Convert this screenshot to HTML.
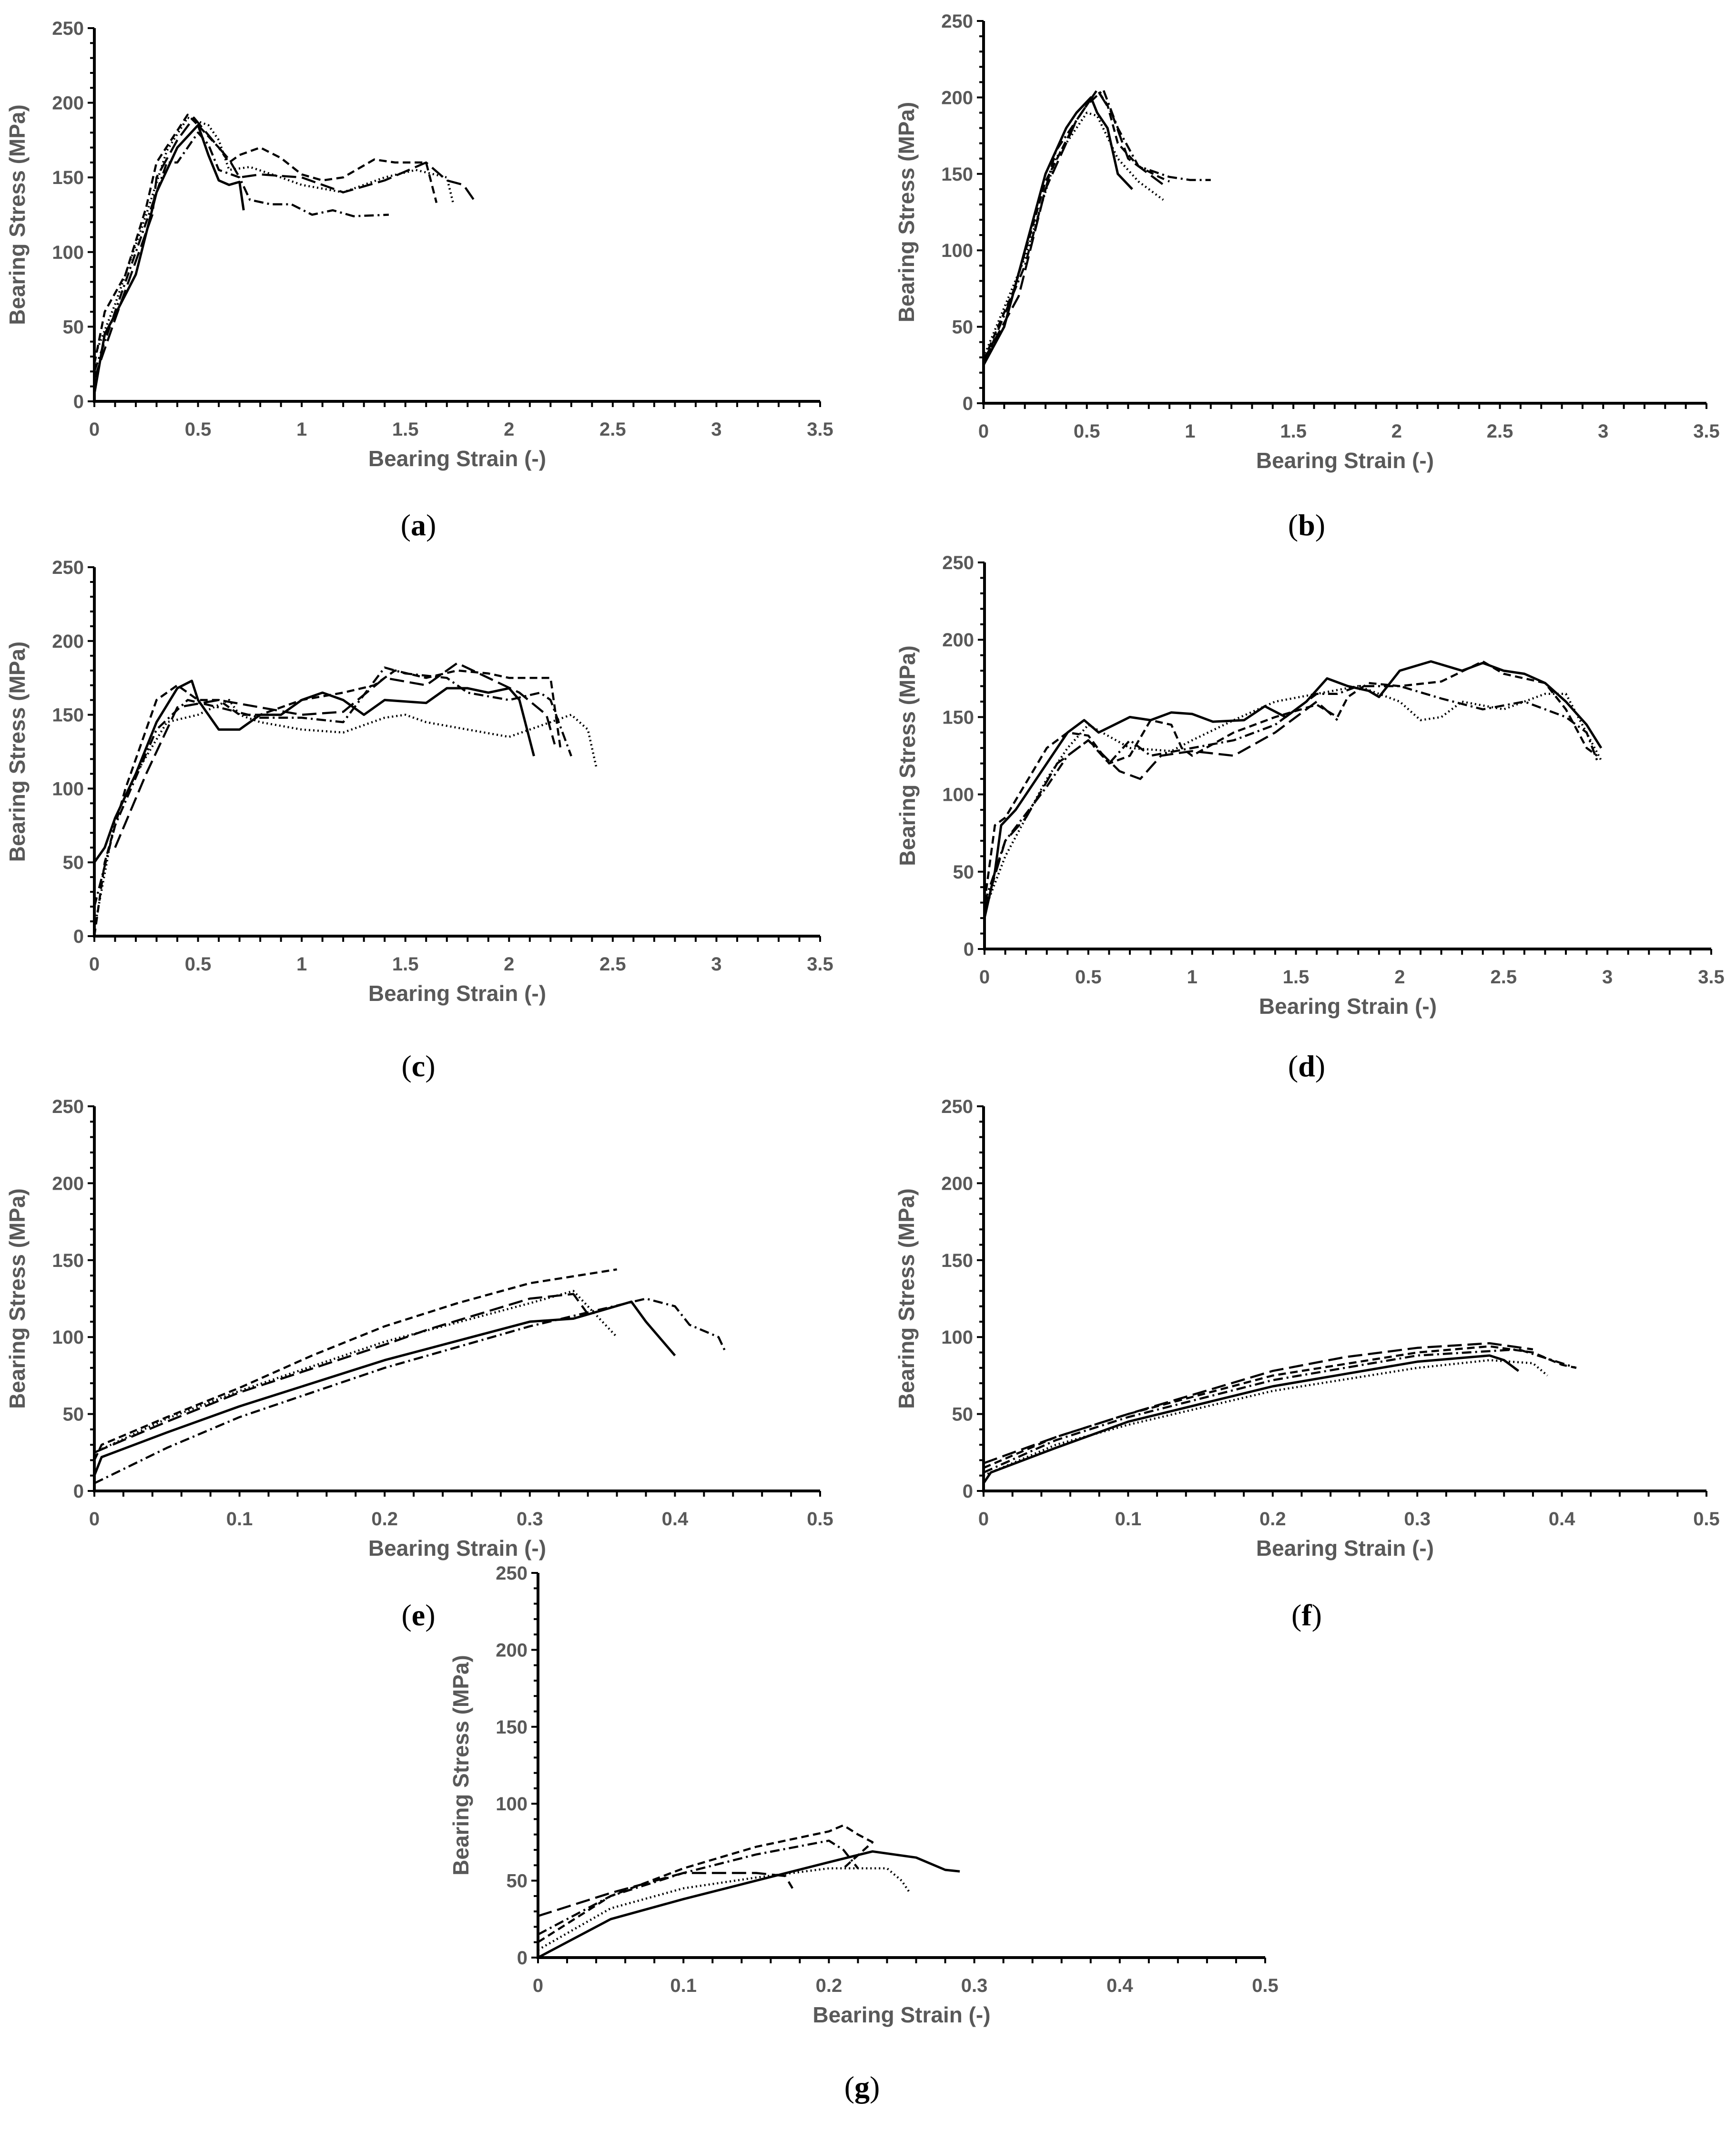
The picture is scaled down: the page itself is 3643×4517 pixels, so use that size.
<!DOCTYPE html>
<html><head><meta charset="utf-8"><style>
html,body{margin:0;padding:0;background:#fff;}
svg{display:block;}
.tick{font-family:"Liberation Sans",sans-serif;font-weight:bold;fill:#595959;font-size:40px;}
.ttl{font-family:"Liberation Sans",sans-serif;font-weight:bold;fill:#595959;font-size:46px;}
.cap{font-family:"Liberation Serif",serif;font-size:64px;fill:#000;}
</style></head><body>
<svg id="fig" width="3643" height="4517" viewBox="0 0 3643 4517" xmlns="http://www.w3.org/2000/svg"></svg>
<script>
// Panel data (strain, stress pairs)
const a_solid=[[0,5],[0.05,45],[0.1,58],[0.2,85],[0.3,140],[0.4,170],[0.5,185],[0.55,165],[0.6,148],[0.65,145],[0.7,147],[0.72,128]];
const a_dash=[[0,25],[0.05,60],[0.15,85],[0.25,130],[0.3,160],[0.45,192],[0.5,185],[0.6,170],[0.65,160],[0.7,165],[0.8,170],[0.9,163],[1.0,152],[1.1,148],[1.2,150],[1.35,162],[1.45,160],[1.6,160],[1.65,133]];
const a_dot=[[0,30],[0.1,65],[0.25,125],[0.35,168],[0.45,190],[0.55,185],[0.6,175],[0.65,155],[0.75,157],[0.9,150],[1.0,145],[1.2,140],[1.4,150],[1.55,155],[1.7,150],[1.73,133]];
const a_dashdot=[[0,20],[0.1,60],[0.25,120],[0.35,160],[0.4,160],[0.45,170],[0.5,180],[0.55,172],[0.6,155],[0.7,150],[0.75,135],[0.85,132],[0.95,132],[1.05,125],[1.15,128],[1.25,124],[1.42,125]];
const a_long=[[0,15],[0.1,55],[0.28,125],[0.3,150],[0.4,175],[0.48,190],[0.6,170],[0.65,162],[0.7,150],[0.8,152],[1.0,150],[1.2,140],[1.4,148],[1.6,160],[1.7,148],[1.78,145],[1.83,135]];

const b_solid=[[0,25],[0.1,50],[0.2,100],[0.3,150],[0.4,180],[0.45,190],[0.52,200],[0.55,190],[0.6,180],[0.65,150],[0.72,140]];
const b_dash=[[0,28],[0.15,75],[0.3,145],[0.45,185],[0.55,205],[0.6,195],[0.65,170],[0.75,155],[0.85,148],[0.9,145]];
const b_dot=[[0,30],[0.2,95],[0.35,160],[0.5,190],[0.55,188],[0.65,160],[0.75,145],[0.87,133]];
const b_dashdot=[[0,25],[0.2,90],[0.35,165],[0.5,195],[0.58,205],[0.65,180],[0.75,155],[0.9,148],[1.0,146],[1.1,146]];
const b_long=[[0,28],[0.17,70],[0.3,140],[0.45,185],[0.55,205],[0.62,190],[0.7,160],[0.8,150],[0.87,143]];

const c_solid=[[0,50],[0.05,60],[0.1,80],[0.2,110],[0.3,145],[0.4,168],[0.47,173],[0.5,160],[0.6,140],[0.7,140],[0.8,150],[0.9,150],[1.0,160],[1.1,165],[1.2,160],[1.3,150],[1.4,160],[1.6,158],[1.7,168],[1.8,168],[1.9,165],[2.0,168],[2.05,160],[2.12,122]];
const c_dash=[[0,0],[0.05,50],[0.15,100],[0.3,160],[0.4,170],[0.5,160],[0.6,160],[0.7,150],[0.8,150],[1.0,160],[1.2,165],[1.35,170],[1.45,180],[1.6,175],[1.75,180],[1.9,178],[2.0,175],[2.2,175],[2.25,125]];
const c_dot=[[0,5],[0.1,80],[0.2,110],[0.35,145],[0.5,150],[0.65,160],[0.7,150],[0.8,145],[1.0,140],[1.2,138],[1.4,148],[1.5,150],[1.6,145],[1.8,140],[2.0,135],[2.1,140],[2.3,150],[2.38,140],[2.42,115]];
const c_dashdot=[[0,20],[0.1,75],[0.3,140],[0.45,160],[0.6,155],[0.8,148],[1.0,148],[1.2,145],[1.4,182],[1.5,178],[1.7,175],[1.8,165],[2.0,160],[2.15,165],[2.2,160],[2.3,122]];
const c_long=[[0.1,60],[0.25,110],[0.4,155],[0.6,160],[0.8,155],[1.0,150],[1.2,152],[1.4,175],[1.6,170],[1.75,185],[1.9,175],[2.05,165],[2.18,150],[2.22,130]];

const d_solid=[[0,20],[0.05,50],[0.08,80],[0.15,90],[0.3,120],[0.4,140],[0.48,148],[0.55,140],[0.7,150],[0.8,148],[0.9,153],[1.0,152],[1.1,147],[1.25,148],[1.35,157],[1.45,150],[1.55,160],[1.65,175],[1.75,170],[1.85,167],[1.9,163],[2.0,180],[2.15,186],[2.3,180],[2.4,185],[2.5,180],[2.6,178],[2.7,172],[2.8,160],[2.9,145],[2.97,130]];
const d_dash=[[0,30],[0.05,80],[0.1,85],[0.3,130],[0.4,140],[0.5,138],[0.6,120],[0.7,125],[0.8,148],[0.9,145],[0.95,130],[1.0,125],[1.2,140],[1.4,150],[1.6,158],[1.7,150],[1.75,163],[1.85,172],[2.0,170],[2.2,173],[2.4,186],[2.5,178],[2.6,175],[2.7,172],[2.8,155],[2.9,130],[2.95,125]];
const d_dot=[[0,25],[0.1,60],[0.2,85],[0.3,110],[0.4,130],[0.5,145],[0.7,130],[0.9,128],[1.0,135],[1.2,148],[1.4,160],[1.6,165],[1.8,170],[2.0,160],[2.1,148],[2.2,150],[2.3,160],[2.5,155],[2.7,165],[2.8,165],[2.97,122]];
const d_dashdot=[[0,30],[0.1,70],[0.3,105],[0.4,125],[0.5,135],[0.6,120],[0.7,135],[0.8,125],[1.0,130],[1.2,135],[1.4,145],[1.6,165],[1.7,165],[1.8,170],[2.0,170],[2.2,162],[2.4,155],[2.6,160],[2.8,150],[2.9,140],[2.95,122]];
const d_long=[[0,25],[0.1,70],[0.2,85],[0.35,120],[0.5,135],[0.65,115],[0.75,110],[0.85,125],[1.0,128],[1.2,125],[1.4,140],[1.6,160],[1.7,148]];

const e_solid=[[0,10],[0.005,22],[0.05,38],[0.1,55],[0.2,85],[0.3,110],[0.33,112],[0.37,123],[0.38,110],[0.4,88]];
const e_dash=[[0,20],[0.005,30],[0.05,48],[0.1,67],[0.15,88],[0.2,107],[0.25,122],[0.3,135],[0.36,144]];
const e_dot=[[0,25],[0.05,47],[0.1,65],[0.2,97],[0.3,122],[0.33,130],[0.36,100]];
const e_dashdot=[[0,5],[0.05,28],[0.1,48],[0.2,80],[0.3,107],[0.38,125],[0.4,120],[0.41,108],[0.43,100],[0.435,90]];
const e_long=[[0,25],[0.05,45],[0.1,64],[0.2,95],[0.23,105],[0.3,125],[0.33,128],[0.34,115]];

const f_solid=[[0,5],[0.005,12],[0.05,28],[0.1,45],[0.2,68],[0.3,84],[0.35,88],[0.36,85],[0.37,78]];
const f_dash=[[0,15],[0.05,35],[0.1,50],[0.2,75],[0.3,90],[0.35,94],[0.38,90],[0.4,82],[0.41,80]];
const f_dot=[[0,10],[0.05,30],[0.1,43],[0.2,65],[0.3,80],[0.35,85],[0.38,83],[0.39,75]];
const f_dashdot=[[0,12],[0.05,33],[0.1,48],[0.2,72],[0.3,88],[0.37,92],[0.4,83],[0.41,80]];
const f_long=[[0,18],[0.05,35],[0.1,50],[0.2,78],[0.25,87],[0.3,93],[0.35,96],[0.38,92]];

const g_solid=[[0,0],[0.02,10],[0.05,25],[0.1,38],[0.15,50],[0.2,62],[0.23,69],[0.26,65],[0.28,57],[0.29,56]];
const g_dash=[[0,10],[0.05,40],[0.1,58],[0.15,72],[0.2,82],[0.21,86],[0.22,80],[0.23,75],[0.21,58]];
const g_dot=[[0,5],[0.05,32],[0.1,45],[0.15,52],[0.2,58],[0.24,58],[0.25,50],[0.255,43]];
const g_dashdot=[[0,15],[0.05,40],[0.1,55],[0.15,67],[0.2,76],[0.21,70],[0.22,58]];
const g_long=[[0,27],[0.05,42],[0.1,55],[0.15,55],[0.17,53],[0.175,45]];

const yTicks=[0,50,100,150,200,250];
const xTicksWide=[0,0.5,1,1.5,2,2.5,3,3.5];
const xTicksNarrow=[0,0.1,0.2,0.3,0.4,0.5];

const NS='http://www.w3.org/2000/svg';
const svg=document.getElementById('fig');
function mk(tag,attrs,parent){const e=document.createElementNS(NS,tag);for(const k in attrs)e.setAttribute(k,attrs[k]);(parent||svg).appendChild(e);return e;}
const styles={solid:'',dash:'16,9',dot:'3,6',dashdot:'20,8,4,8',long:'30,12'};

function panel(id,x0,x1,y0,y1,xmax,xticks,minorStep,series,cap,capX,capY){
  const g=mk('g',{});
  
  
  const sx=v=>x0+(x1-x0)*v/xmax;
  const sy=v=>y0-(y0-y1)*v/250;
  // axes
  const ax=mk('path',{d:`M${x0},${y1} V${y0} H${x1}`,stroke:'#000','stroke-width':6,fill:'none'},g);
  
  
  // y ticks minor every 10
  for(let v=0;v<=250;v+=10){const y=sy(v);mk('line',{x1:x0-(v%50==0?14:9),x2:x0,y1:y,y2:y,stroke:'#000','stroke-width':4},g);}
  yTicks.forEach(v=>{const t=mk('text',{x:x0-22,y:sy(v)+14,'text-anchor':'end',class:'tick'},g);t.textContent=v;
    });
  const n=Math.round(xmax/minorStep);
  for(let i=0;i<=n;i++){const x=sx(i*minorStep);mk('line',{x1:x,x2:x,y1:y0,y2:y0+12,stroke:'#000','stroke-width':4},g);}
  xticks.forEach(v=>{const t=mk('text',{x:sx(v),y:y0+72,'text-anchor':'middle',class:'tick'},g);t.textContent=v;
    });
  const xt=mk('text',{x:(x0+x1)/2,y:y0+136,'text-anchor':'middle',class:'ttl'},g);xt.textContent='Bearing Strain (-)';
  
  const yc=(y0+y1)/2;
  const yt=mk('text',{x:x0-146,y:yc,'text-anchor':'middle',class:'ttl',transform:`rotate(-90 ${x0-146} ${yc})`},g);yt.textContent='Bearing Stress (MPa)';
  
  for(const k in series){
    const d=series[k].map((p,i)=>(i?'L':'M')+sx(p[0]).toFixed(1)+','+sy(p[1]).toFixed(1)).join(' ');
    const attrs={d:d,stroke:'#000','stroke-width':k=='solid'?5:4.5,fill:'none','stroke-linejoin':'round'};
    if(styles[k])attrs['stroke-dasharray']=styles[k];
    const p=mk('path',attrs,g);
    
    
  }
  const c=mk('text',{x:capX,y:capY,'text-anchor':'middle',class:'cap'});
  c.innerHTML='(<tspan font-weight="bold">'+cap+'</tspan>)';
  
  
}
panel('a',198,1721,842,59,3.5,xTicksWide,0.1,{solid:a_solid,dash:a_dash,dot:a_dot,dashdot:a_dashdot,long:a_long},'a',878,1123);
panel('b',2064,3581,846,44,3.5,xTicksWide,0.1,{solid:b_solid,dash:b_dash,dot:b_dot,dashdot:b_dashdot,long:b_long},'b',2742,1123);
panel('c',198,1721,1964,1190,3.5,xTicksWide,0.1,{solid:c_solid,dash:c_dash,dot:c_dot,dashdot:c_dashdot,long:c_long},'c',878,2258);
panel('d',2066,3591,1991,1180,3.5,xTicksWide,0.1,{solid:d_solid,dash:d_dash,dot:d_dot,dashdot:d_dashdot,long:d_long},'d',2742,2258);
panel('e',198,1721,3128,2321,0.5,xTicksNarrow,0.02,{solid:e_solid,dash:e_dash,dot:e_dot,dashdot:e_dashdot,long:e_long},'e',878,3410);
panel('f',2064,3581,3128,2321,0.5,xTicksNarrow,0.02,{solid:f_solid,dash:f_dash,dot:f_dot,dashdot:f_dashdot,long:f_long},'f',2742,3410);
panel('g',1129,2655,4107,3300,0.5,xTicksNarrow,0.02,{solid:g_solid,dash:g_dash,dot:g_dot,dashdot:g_dashdot,long:g_long},'g',1809,4400);
</script>
</body></html>
